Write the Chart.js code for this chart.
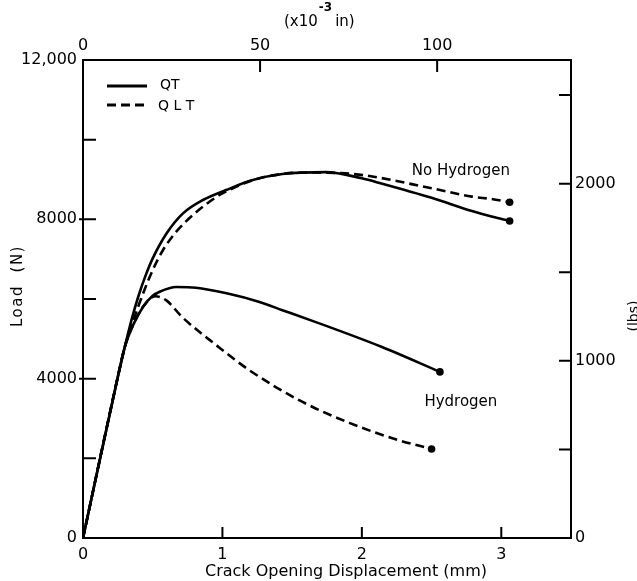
<!DOCTYPE html>
<html><head><meta charset="utf-8">
<style>html,body{margin:0;padding:0;background:#fff;}canvas{display:block;}</style>
<script src="https://cdn.jsdelivr.net/npm/chart.js@4.4.0/dist/chart.umd.min.js"></script>
</head><body>
<canvas id="c" width="637" height="581"></canvas>
<script>
// ---- data (crack opening displacement in mm, load in N) ----
const qtNoH_x  = [0, 0.25, 0.30, 0.35, 0.40, 0.45, 0.50, 0.60, 0.717, 0.86, 1.026, 1.217, 1.43, 1.74, 2.00, 2.14, 2.50, 2.79, 2.93, 3.06];
const qtNoH_y  = [0, 4050, 4800, 5500, 6100, 6600, 7020, 7650, 8150, 8485, 8735, 8986, 9136, 9185, 9030, 8900, 8540, 8210, 8070, 7960];
const qltNoH_x = [0, 0.25, 0.30, 0.36, 0.43, 0.50, 0.574, 0.669, 0.788, 0.907, 1.00, 1.217, 1.43, 1.62, 1.85, 2.03, 2.50, 2.79, 2.93, 3.06];
const qltNoH_y = [0, 4050, 4800, 5450, 6130, 6727, 7229, 7690, 8107, 8441, 8650, 8980, 9140, 9175, 9160, 9100, 8780, 8570, 8510, 8430];
const qtH_x    = [0, 0.25, 0.30, 0.36, 0.43, 0.50, 0.55, 0.67, 0.81, 1.03, 1.26, 1.43, 1.67, 2.14, 2.56];
const qtH_y    = [0, 4050, 4800, 5350, 5800, 6080, 6183, 6300, 6283, 6142, 5931, 5720, 5420, 4800, 4170];
const qltH_x   = [0, 0.25, 0.30, 0.36, 0.44, 0.52, 0.60, 0.71, 0.96, 1.19, 1.55, 1.91, 2.26, 2.50];
const qltH_y   = [0, 4050, 4800, 5350, 5850, 6070, 5960, 5550, 4830, 4220, 3460, 2890, 2460, 2235];

// ---- axes ----
const loadTicks = [0, 4000, 8000, 12000];
const loadTickLabels = ['0', '4000', '8000', '12,000'];
const loadMinor = [2000, 4000, 6000, 8000, 10000];
const codTicks = [0, 1, 2, 3];
const milTicks = [0, 50, 100];
const lbsTicks = [0, 1000, 2000];
const lbsMinor = [500, 1000, 1500, 2000, 2500];
const N_PER_LB = 4.44822;
const MM_PER_MIL = 0.0254;
const X_MAX = 3.5, Y_MAX = 12000;

const pts = (xs, ys) => xs.map((x, i) => ({x, y: ys[i]}));
const FONT = "'DejaVu Sans', sans-serif";
const endRadius = ctx => ctx.dataIndex === ctx.dataset.data.length - 1 ? 3.8 : 0;

function ds(label, xs, ys, dashed) {
  return {
    label, data: pts(xs, ys), borderColor: '#000', backgroundColor: '#000',
    borderWidth: 2.6, borderDash: dashed ? [9, 5] : [], cubicInterpolationMode: 'monotone',
    pointRadius: endRadius, pointHoverRadius: endRadius, pointBorderWidth: 0, fill: false
  };
}

const decor = {
  id: 'decor',
  afterDraw(chart) {
    const {ctx, chartArea: a, scales} = chart;
    const sx = scales.x, sy = scales.y, sx2 = scales.x2, sy2 = scales.y2;
    ctx.save();
    ctx.strokeStyle = '#000'; ctx.fillStyle = '#000'; ctx.lineWidth = 2;
    ctx.setLineDash([]);
    ctx.strokeRect(a.left, a.top, a.right - a.left, a.bottom - a.top);
    ctx.beginPath();
    loadMinor.forEach(v => { const p = sy.getPixelForValue(v); ctx.moveTo(a.left - (v % 4000 === 0 ? 4 : 0), p); ctx.lineTo(a.left + 13, p); });
    lbsMinor.forEach(v => { const p = sy2.getPixelForValue(v); ctx.moveTo(a.right, p); ctx.lineTo(a.right - 12, p); });
    codTicks.slice(1).forEach(v => { const p = sx.getPixelForValue(v); ctx.moveTo(p, a.bottom); ctx.lineTo(p, a.bottom - 11); });
    milTicks.slice(1).forEach(v => { const p = sx2.getPixelForValue(v); ctx.moveTo(p, a.top); ctx.lineTo(p, a.top + 12); });
    ctx.stroke();

    // legend
    ctx.lineWidth = 3;
    ctx.beginPath(); ctx.moveTo(a.left + 24, a.top + 26); ctx.lineTo(a.left + 64, a.top + 26); ctx.stroke();
    ctx.setLineDash([9, 5]);
    ctx.beginPath(); ctx.moveTo(a.left + 24, a.top + 45); ctx.lineTo(a.left + 66, a.top + 45); ctx.stroke();
    ctx.setLineDash([]);
    ctx.font = '14px ' + FONT; ctx.textAlign = 'left'; ctx.textBaseline = 'middle';
    ctx.fillText('QT', a.left + 77, a.top + 25);
    ctx.fillText('Q L T', a.left + 75, a.top + 46);

    // curve annotations
    ctx.font = '15px ' + FONT; ctx.textAlign = 'center';
    ctx.fillText('No Hydrogen', sx.getPixelForValue(2.71), sy.getPixelForValue(9210));
    ctx.fillText('Hydrogen', sx.getPixelForValue(2.71), sy.getPixelForValue(3410));

    // axis titles
    ctx.font = '16px ' + FONT;
    ctx.fillText('Crack Opening Displacement (mm)', 346, 572);
    ctx.textAlign = 'left';
    ctx.font = '15px ' + FONT;
    ctx.fillText('(x10', 284, 22);
    const w1 = ctx.measureText('(x10').width;
    ctx.font = 'bold 12px ' + FONT;
    ctx.fillText('-3', 284 + w1 + 1, 8);
    const w2 = ctx.measureText('-3').width;
    ctx.font = '15px ' + FONT;
    ctx.fillText('in)', 284 + w1 + w2 + 4, 22);

    ctx.save();
    ctx.translate(18, 286); ctx.rotate(-Math.PI / 2);
    ctx.textAlign = 'center'; ctx.font = '15px ' + FONT;
    ctx.letterSpacing = '1.5px';
    ctx.fillText('Load  (N)', 0, 0);
    ctx.restore();
    ctx.save();
    ctx.translate(634, 316); ctx.rotate(-Math.PI / 2);
    ctx.textAlign = 'center'; ctx.font = '14px ' + FONT;
    ctx.fillText('(lbs)', 0, 0);
    ctx.restore();
    ctx.restore();
  }
};

const tickFont = {family: FONT, size: 16};
new Chart(document.getElementById('c'), {
  type: 'line',
  data: {datasets: [
    ds('QT', qtNoH_x, qtNoH_y, false),
    ds('QLT', qltNoH_x, qltNoH_y, true),
    ds('QT', qtH_x, qtH_y, false),
    ds('QLT', qltH_x, qltH_y, true)
  ]},
  options: {
    responsive: false, animation: false, events: [],
    layout: {padding: 0},
    plugins: {legend: {display: false}, tooltip: {enabled: false}},
    scales: {
      x: {type: 'linear', position: 'bottom', min: 0, max: X_MAX,
          grid: {display: false, drawTicks: false}, border: {display: false},
          afterBuildTicks: s => { s.ticks = codTicks.map(v => ({value: v})); },
          afterFit: s => { s.height = 43; },
          ticks: {font: tickFont, color: '#000', padding: 7, maxRotation: 0, callback: v => String(v)}},
      x2: {type: 'linear', position: 'top', min: 0, max: X_MAX / MM_PER_MIL,
          grid: {display: false, drawTicks: false}, border: {display: false},
          afterBuildTicks: s => { s.ticks = milTicks.map(v => ({value: v})); },
          afterFit: s => { s.height = 60; },
          ticks: {font: tickFont, color: '#000', padding: 5, maxRotation: 0, callback: v => String(v)}},
      y: {type: 'linear', position: 'left', min: 0, max: Y_MAX,
          grid: {display: false, drawTicks: false}, border: {display: false},
          afterBuildTicks: s => { s.ticks = loadTicks.map(v => ({value: v})); },
          afterFit: s => { s.width = 83; },
          ticks: {font: tickFont, color: '#000', padding: 6, callback: (v, i) => loadTickLabels[i]}},
      y2: {type: 'linear', position: 'right', min: 0, max: Y_MAX / N_PER_LB,
          grid: {display: false, drawTicks: false}, border: {display: false},
          afterBuildTicks: s => { s.ticks = lbsTicks.map(v => ({value: v})); },
          afterFit: s => { s.width = 66; },
          ticks: {font: tickFont, color: '#000', padding: 4, callback: v => String(v)}}
    }
  },
  plugins: [decor]
});
</script>
</body></html>
